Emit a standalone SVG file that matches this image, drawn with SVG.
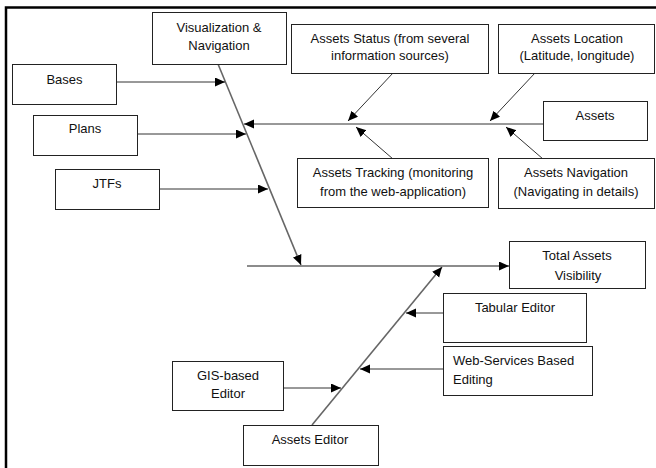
<svg xmlns="http://www.w3.org/2000/svg" width="656" height="468" viewBox="0 0 656 468">
<style>
.box{fill:#fff;stroke:#222;stroke-width:1}
.t{font-family:"Liberation Sans",Arial,sans-serif;font-size:13px;fill:#111;text-anchor:middle}
.tl{text-anchor:start}
.br{stroke:#333;stroke-width:1;fill:none;marker-end:url(#ah)}
.sp{stroke:#666;stroke-width:1.6;fill:none}
.spa{stroke:#666;stroke-width:1.6;fill:none;marker-end:url(#ah)}
</style>
<defs>
<marker id="ah" markerUnits="userSpaceOnUse" markerWidth="11" markerHeight="10" refX="10" refY="4.5" orient="auto">
<path d="M0,0 L10,4.5 L0,9 z" fill="#000"/>
</marker>
</defs>
<rect x="6" y="7.5" width="680" height="480" fill="#fff" stroke="#000" stroke-width="2.5"/>
<g id="connectors">
<path class="spa" d="M218,64 L301,265"/>
<path class="spa" d="M247,266 L509,266"/>
<path class="spa" d="M312,425 L442,267"/>
<path class="br" d="M543,124 L244,124"/>
<path class="br" d="M116,82 L225,82"/>
<path class="br" d="M137,134 L246,134"/>
<path class="br" d="M159,189 L268,189"/>
<path class="br" d="M393,73 L348,121"/>
<path class="br" d="M535,73 L490,121"/>
<path class="br" d="M393,159 L356,127"/>
<path class="br" d="M543,159 L506,127"/>
<path class="br" d="M443,313 L406,313"/>
<path class="br" d="M443,369 L360,369"/>
<path class="br" d="M283,388 L341,388"/>
</g>
<g id="visnav"><rect class="box" x="152.5" y="12.5" width="134" height="52"/><text class="t" x="219" y="32">Visualization &amp;</text><text class="t" x="219" y="50">Navigation</text></g>
<g id="status"><rect class="box" x="291.5" y="24.5" width="197" height="49"/><text class="t" x="390" y="43">Assets Status (from several</text><text class="t" x="390" y="60">information sources)</text></g>
<g id="location"><rect class="box" x="498.5" y="24.5" width="156" height="49"/><text class="t" x="577" y="43">Assets Location</text><text class="t" x="577" y="60">(Latitude, longitude)</text></g>
<g id="bases"><rect class="box" x="12.5" y="64.5" width="104" height="40"/><text class="t" x="64.5" y="84">Bases</text></g>
<g id="plans"><rect class="box" x="33.5" y="115.5" width="104" height="40"/><text class="t" x="85" y="133">Plans</text></g>
<g id="jtfs"><rect class="box" x="55.5" y="169.5" width="104" height="40"/><text class="t" x="107" y="188">JTFs</text></g>
<g id="assets"><rect class="box" x="543.5" y="101.5" width="104" height="39"/><text class="t" x="595" y="120">Assets</text></g>
<g id="tracking"><rect class="box" x="297.5" y="158.5" width="191" height="49"/><text class="t" x="393" y="177">Assets Tracking (monitoring</text><text class="t" x="393" y="196">from the web-application)</text></g>
<g id="navigation"><rect class="box" x="498.5" y="158.5" width="156" height="50"/><text class="t" x="576" y="177">Assets Navigation</text><text class="t" x="576" y="196">(Navigating in details)</text></g>
<g id="total"><rect class="box" x="509.5" y="241.5" width="136" height="47"/><text class="t" x="577" y="260">Total Assets</text><text class="t" x="578" y="280">Visibility</text></g>
<g id="tabular"><rect class="box" x="443.5" y="293.5" width="143" height="49"/><text class="t" x="515" y="312">Tabular Editor</text></g>
<g id="webservices"><rect class="box" x="443.5" y="346.5" width="149" height="49"/><text class="t tl" x="453" y="365">Web-Services Based</text><text class="t tl" x="453" y="384">Editing</text></g>
<g id="gis"><rect class="box" x="172.5" y="361.5" width="111" height="49"/><text class="t" x="228" y="380">GIS-based</text><text class="t" x="228" y="398">Editor</text></g>
<g id="editor"><rect class="box" x="243.5" y="425.5" width="135" height="40"/><text class="t" x="310" y="444">Assets Editor</text></g>
</svg>
